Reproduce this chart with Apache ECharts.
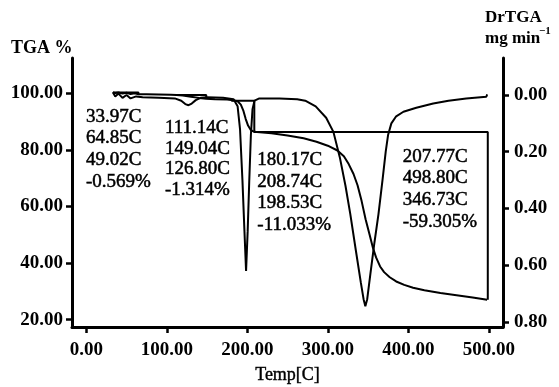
<!DOCTYPE html>
<html>
<head>
<meta charset="utf-8">
<script src="https://cdn.jsdelivr.net/npm/echarts@6/dist/echarts.min.js"></script>
<style>
html,body{margin:0;padding:0;background:#fff;}
#c{width:559px;height:387px;}
</style>
</head>
<body>
<div id="c"></div>
<script>
// ---- data (temperature in C) ----
const xTicks = [0, 100, 200, 300, 400, 500];
const tgaTicks = [20, 40, 60, 80, 100];
const dtgTicks = [0, 0.2, 0.4, 0.6, 0.8];

// TGA curve [temp, %]
const tga = [
  [33, 100.4], [36, 100.1], [40, 100.3], [45, 99.9], [50, 100.2], [55, 99.8], [60, 100.0],
  [65, 99.7], [75, 99.7], [90, 99.6], [105, 99.5], [112, 99.4], [120, 99.2], [130, 98.8],
  [140, 98.4], [149, 98.1], [160, 97.9], [175, 97.8], [182, 97.6], [188, 97.2], [192, 96.0],
  [195, 94.0], [198, 91.0], [201, 88.6], [204, 87.2], [207, 86.6], [212, 86.3], [230, 85.9],
  [250, 85.1], [270, 84.1], [286, 82.9], [300, 81.5], [312, 79.8], [320, 77.8], [326, 75.0],
  [332, 71.5], [337, 67.5], [342, 62.0], [347, 55.5], [352, 50.0], [356, 45.5], [360, 42.0],
  [365, 38.8], [370, 36.8], [377, 35.0], [385, 33.5], [395, 32.3], [406, 31.3], [420, 30.4],
  [440, 29.4], [460, 28.6], [480, 27.8], [498, 27.0]
];

// DrTGA curve [temp, mg/min]
const dtg = [
  [33, -0.01], [36, 0.005], [40, -0.005], [45, 0.01], [50, 0.0], [55, 0.012], [62, 0.005],
  [70, 0.008], [90, 0.01], [110, 0.012], [118, 0.02], [123, 0.032], [127, 0.036], [131, 0.03],
  [136, 0.018], [142, 0.01], [150, 0.008], [170, 0.01], [183, 0.015], [188, 0.04], [191, 0.12],
  [194, 0.3], [196.5, 0.48], [198.5, 0.62], [200.5, 0.48], [202.5, 0.3], [204.5, 0.14],
  [206.5, 0.05], [209, 0.02], [215, 0.012], [240, 0.012], [262, 0.015], [272, 0.02], [285, 0.04],
  [298, 0.08], [307, 0.13], [315, 0.22], [322, 0.32], [328, 0.42], [335, 0.55], [341, 0.66],
  [344.5, 0.72], [346.7, 0.745], [349, 0.72], [353, 0.63], [358, 0.52], [363, 0.42], [368, 0.3],
  [372, 0.2], [375, 0.14], [379, 0.1], [385, 0.075], [394, 0.059], [410, 0.045], [431, 0.03],
  [450, 0.02], [472, 0.012], [497, 0.006], [498, -0.002]
];

// weight-loss step markers [temp, %]
const stepA = [[33.97, 100.3], [64.85, 100.3], [64.85, 99.73]];
const stepB = [[111.14, 99.45], [149.04, 99.45], [149.04, 98.14]];
const stepC = [[180.17, 97.4], [208.74, 97.4], [208.74, 86.37]];
const stepD = [[207.77, 86.3], [498.80, 86.3], [498.80, 26.99]];

// step annotations
const ann1 = ['33.97C', '64.85C', '49.02C', '-0.569%'];
const ann2 = ['111.14C', '149.04C', '126.80C', '-1.314%'];
const ann3 = ['180.17C', '208.74C', '198.53C', '-11.033%'];
const ann4 = ['207.77C', '498.80C', '346.73C', '-59.305%'];

// ---- chart ----
const FONT = '"Liberation Serif", "Times New Roman", serif';
const chart = echarts.init(document.getElementById('c'), null, {renderer: 'canvas'});

function block(lines, x, y0, dy) {
  return lines.map((t, i) => ({
    type: 'text', x: x, y: y0 + i * dy,
    style: {text: t, font: '19px ' + FONT, fill: '#000', stroke: '#000', lineWidth: 0.5,
            verticalAlign: 'middle', align: 'left'}
  }));
}

const lineStyle = {color: '#000', width: 2};
function lineSeries(data, yIdx) {
  return {type: 'line', data: data, yAxisIndex: yIdx, showSymbol: false, symbol: 'none',
          lineStyle: lineStyle, animation: false, smooth: false, z: 3};
}

const axLine = {show: true, onZero: false, lineStyle: {color: '#000', width: 3}};
const axTick = {show: true, length: 6, lineStyle: {color: '#000', width: 2.5}};
const axLabel = {color: '#000', fontFamily: FONT, fontSize: 19, fontWeight: 'bold'};
const fmt2 = v => v.toFixed(2);
const thinStroke = {fill: '#000', stroke: '#000', lineWidth: 0.5, verticalAlign: 'middle'};

chart.setOption({
  animation: false,
  backgroundColor: '#fff',
  grid: {left: 72, right: 56, top: 58, bottom: 60, containLabel: false, outerBoundsMode: 'none'},
  xAxis: {
    type: 'value', min: -17.74, max: 517.7,
    axisLine: axLine, splitLine: {show: false},
    axisTick: Object.assign({}, axTick, {customValues: xTicks}),
    axisLabel: Object.assign({}, axLabel, {customValues: xTicks, margin: 14, formatter: fmt2})
  },
  yAxis: [
    {
      type: 'value', position: 'left', min: 17.4, max: 112.5,
      axisLine: axLine, splitLine: {show: false},
      axisTick: Object.assign({}, axTick, {customValues: tgaTicks}),
      axisLabel: Object.assign({}, axLabel, {customValues: tgaTicks, margin: 9, formatter: fmt2})
    },
    {
      type: 'value', position: 'right', inverse: true, min: -0.1305, max: 0.818,
      axisLine: axLine, splitLine: {show: false},
      axisTick: Object.assign({}, axTick, {customValues: dtgTicks}),
      axisLabel: Object.assign({}, axLabel, {customValues: dtgTicks, margin: 11, formatter: fmt2})
    }
  ],
  series: [
    lineSeries(tga, 0),
    lineSeries(dtg, 1),
    lineSeries(stepA, 0),
    lineSeries(stepB, 0),
    lineSeries(stepC, 0),
    lineSeries(stepD, 0)
  ],
  graphic: [
    {type: 'text', x: 11, y: 48, style: {text: 'TGA %', font: 'bold 18px ' + FONT, fill: '#000', verticalAlign: 'middle'}},
    {type: 'text', x: 485, y: 18, style: {text: 'DrTGA', font: 'bold 17px ' + FONT, fill: '#000', verticalAlign: 'middle'}},
    {type: 'text', x: 485, y: 39, style: {text: 'mg min', font: 'bold 17px ' + FONT, fill: '#000', verticalAlign: 'middle'}},
    {type: 'text', x: 539, y: 31, style: {text: '\u22121', font: 'bold 11px ' + FONT, fill: '#000', verticalAlign: 'middle'}},
    {type: 'text', x: 287.5, y: 375, style: Object.assign({text: 'Temp[C]', font: '18px ' + FONT, align: 'center'}, thinStroke, {lineWidth: 0.4})}
  ].concat(block(ann1, 86, 116.7, 21.7))
   .concat(block(ann2, 165, 128.3, 20.6))
   .concat(block(ann3, 257.3, 160, 21.7))
   .concat(block(ann4, 402.7, 156.7, 21.7))
});
</script>
</body>
</html>
